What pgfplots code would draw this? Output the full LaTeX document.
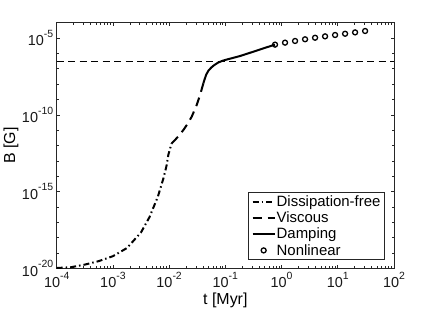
\documentclass[border=0pt]{standalone}
\usepackage{fontspec}
\setmainfont{Liberation Sans}
\usepackage{pgfplots}
\pgfplotsset{compat=1.18}
\newcommand{\tl}[1]{10\raisebox{0.58em}{\fontsize{10.5}{12}\selectfont #1}}
\begin{document}
\begin{tikzpicture}
\useasboundingbox (-56.7bp,-41.7bp) rectangle (379.3bp,268.3bp);
\begin{axis}[
  scale only axis,
  width=337.3bp, height=245.6bp,
  xmode=log, ymode=log, log basis x=10, log basis y=10,
  xmin=1e-4, xmax=100, ymin=1e-20, ymax=1e-4,
  axis line style={draw=black!85, line width=0.8bp},
  tick align=inside,
  major tick length=3.5bp, minor tick length=2bp,
  every tick/.style={black!85, line width=0.6bp},
  tick label style={font=\fontsize{14.5}{16}\selectfont, text=black!90},
  xtick={1e-4,1e-3,1e-2,1e-1,1,10,100},
  xticklabels={\tl{-4},\tl{-3},\tl{-2},\tl{-1},\tl{0},\tl{1},\tl{2}},
  minor xtick={2e-4,3e-4,4e-4,5e-4,6e-4,7e-4,8e-4,9e-4,
               2e-3,3e-3,4e-3,5e-3,6e-3,7e-3,8e-3,9e-3,
               0.02,0.03,0.04,0.05,0.06,0.07,0.08,0.09,
               0.2,0.3,0.4,0.5,0.6,0.7,0.8,0.9,
               2,3,4,5,6,7,8,9,
               20,30,40,50,60,70,80,90},
  ytick={1e-20,1e-15,1e-10,1e-5},
  yticklabels={\tl{-20},\tl{-15},\tl{-10},\tl{-5}},
  minor ytick={1e-19,1e-18,1e-17,1e-16,1e-14,1e-13,1e-12,1e-11,
               1e-9,1e-8,1e-7,1e-6},
  xlabel={t [Myr]}, ylabel={B [G]},
  every axis x label/.style={at={(axis description cs:0.5,-0.1454)}, anchor=base, inner sep=0pt, font=\fontsize{16}{18}\selectfont},
  every axis y label/.style={at={(axis description cs:-0.1236,0.5)}, rotate=90, anchor=base, inner sep=0pt, font=\fontsize{16}{18}\selectfont},
  legend style={at={(rel axis cs:0.973,0.034)}, anchor=south east,
    draw=black!85, line width=0.8bp, fill=white,
    font=\fontsize{15}{16}\selectfont,
    inner xsep=3bp, inner ysep=2bp, row sep=1.8bp,
    nodes={inner sep=1bp}, cells={anchor=west}},
  legend image code/.code={\draw[mark repeat=2,mark phase=2,#1] plot coordinates {(0bp,0bp) (11bp,0bp) (22bp,0bp)};},
]
% threshold line
\addplot[forget plot, black, line width=0.9bp, dash pattern=on 7bp off 4.5bp] coordinates {(1e-4,3.16e-7) (100,3.16e-7)};
% Dissipation-free
\addplot[black, line width=2bp, dash pattern=on 6bp off 3bp on 1.5bp off 3bp] coordinates {
(1e-4,1.05e-20) (1.778e-4,1.17e-20) (3.162e-4,1.74e-20) (5.623e-4,2.95e-20)
(1e-3,6.17e-20) (1.778e-3,2.09e-19) (3.162e-3,2.19e-18) (4.467e-3,2.14e-17)
(6.310e-3,4.68e-16) (7.943e-3,7.59e-15) (9.057e-3,5.37e-14) (9.683e-3,2.5e-13)
(0.01040,6.3e-13) (0.01112,1.38e-12)};
\addlegendentry{Dissipation-free}
% Viscous
\addplot[black, line width=2bp, dash pattern=on 9bp off 6bp] coordinates {
(0.01112,1.38e-12) (0.01274,2.29e-12) (0.01514,4.68e-12) (0.01791,1.02e-11)
(0.02138,2.63e-11) (0.02523,7.59e-11) (0.03097,4.37e-10) (0.03548,1.95e-9)
(0.04064,1.12e-8)};
\addlegendentry{Viscous}
% Damping
\addplot[black, line width=2bp] coordinates {
(0.04064,1.12e-8) (0.04266,2.00e-8) (0.04571,4.17e-8) (0.05012,7.59e-8)
(0.05623,1.20e-7) (0.06310,1.70e-7) (0.07413,2.51e-7) (0.08913,3.31e-7)
(0.1059,3.98e-7) (0.1413,5.25e-7) (0.1828,6.76e-7) (0.2399,9.33e-7)
(0.3148,1.29e-6) (0.4169,1.82e-6) (0.5458,2.51e-6) (0.7656,3.72e-6)};
\addlegendentry{Damping}
% Nonlinear
\addplot[black, only marks, mark=o, mark size=2.5bp, line width=1.3bp] coordinates {
(0.7656,3.72e-6) (1.153,5.01e-6) (1.738,6.46e-6) (2.618,8.32e-6)
(3.945,1.05e-5) (5.943,1.29e-5) (8.954,1.58e-5) (13.49,1.91e-5)
(20.32,2.34e-5) (30.62,2.88e-5)};
\addlegendentry{Nonlinear}
\end{axis}
\end{tikzpicture}
\end{document}
